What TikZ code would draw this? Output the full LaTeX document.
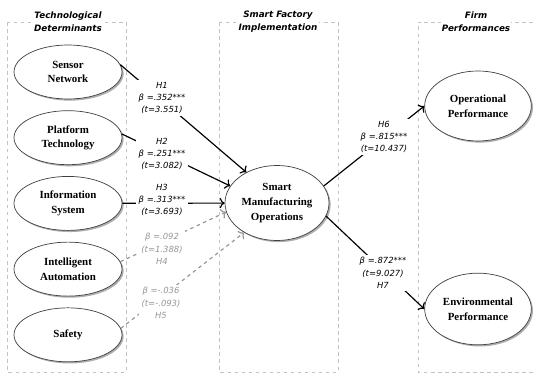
\documentclass[tikz,border=0pt]{standalone}
\usepackage{fontspec}
\setmainfont{Liberation Serif}
\setsansfont{DejaVu Sans}[BoldFont={DejaVu Sans Bold}, ItalicFont={DejaVu Sans Oblique}, BoldItalicFont={DejaVu Sans Bold Oblique}]
\usepackage{tikz}
\usetikzlibrary{arrows.meta, positioning, shapes.geometric, shadows}
\usepackage{xcolor}
\definecolor{boxgray}{RGB}{195,195,195}
\definecolor{weakgray}{RGB}{150,150,150}

\begin{document}
\begin{tikzpicture}[x=0.03cm, y=-0.03cm,
    construct/.style={draw=black!75, ellipse, fill=white, line width=0.6pt, inner sep=0pt, align=center,
        minimum width=3.24cm, minimum height=1.62cm, font=\fontsize{9.3}{12.5}\selectfont\bfseries,
        drop shadow={shadow xshift=1.4pt, shadow yshift=-1.4pt, fill=black!70, opacity=0.45}},
    group/.style={draw=boxgray, dashed, line width=0.6pt},
    heading/.style={fill=white, align=center, inner sep=1pt, font=\fontsize{7.5}{11}\selectfont\sffamily\bfseries\itshape},
    coef/.style={fill=white, align=center, inner sep=2pt, font=\fontsize{7.2}{10.5}\selectfont\sffamily\itshape},
    sig/.style={draw, line width=1pt, -{To[scale=1.1]}},
    nsig/.style={draw=weakgray, line width=1pt, dashed, -{To[scale=1.1]}}]
    \useasboundingbox (0,0) rectangle (533,374);

    % dashed groups
    \draw[group] (7,22) rectangle (126,372);
    \draw[group] (219,22) rectangle (338,372);
    \draw[group] (533,22) -| (418,372) -- (533,372);

    \node[heading] (t1) at (68,21.5) {Technological\\Determinants};
    \node[heading] (t2) at (278,21.5) {Smart Factory\\Implementation};
    \node[heading] (t3) at (476,21.5) {Firm\\Performances};

    % constructs
    \node[construct] (sn) at (68,72) {Sensor\\Network};
    \node[construct, below=0.33cm of sn] (pt) {Platform\\Technology};
    \node[construct, below=0.33cm of pt] (is) {Information\\System};
    \node[construct, below=0.33cm of is] (ia) {Intelligent\\Automation};
    \node[construct, below=0.33cm of ia] (sf) {Safety};
    \node[construct, minimum width=3.12cm, minimum height=2.25cm] (smo) at (277,203) {Smart\\Manufacturing\\Operations};
    \node[construct, minimum width=3.2cm, minimum height=2.1cm] (op) at (478,106) {Operational\\Performance};
    \node[construct, minimum width=3.2cm, minimum height=2.15cm] (env) at (478,309) {Environmental\\Performance};

    % paths
    \draw[sig] (sn.8) -- (smo.135);
    \draw[sig] (pt.4) -- (smo.160);
    \draw[sig] (is) -- (smo);
    \draw[nsig] (ia.8) -- (smo.190);
    \draw[nsig] (sf.7) -- (smo.222);
    \draw[sig] (smo.20) -- (op.west);
    \draw[sig] (smo.-15) -- (env.west);

    \node[coef] (h1) at (162,98) {H1\\β =.352***\\(t=3.551)};
    \node[coef] (h2) at (162,154) {H2\\β =.251***\\(t=3.082)};
    \node[coef] (h3) at (162,200) {H3\\β =.313***\\(t=3.693)};
    \node[coef, text=weakgray] (h4) at (162,249) {β =.092\\(t=1.388)\\H4};
    \node[coef, text=weakgray] (h5) at (161,303) {β =-.036\\(t=-.093)\\H5};
    \node[coef] (h6) at (384,137) {H6\\β =.815***\\(t=10.437)};
    \node[coef] (h7) at (383,273) {β =.872***\\(t=9.027)\\H7};
\end{tikzpicture}
\end{document}
